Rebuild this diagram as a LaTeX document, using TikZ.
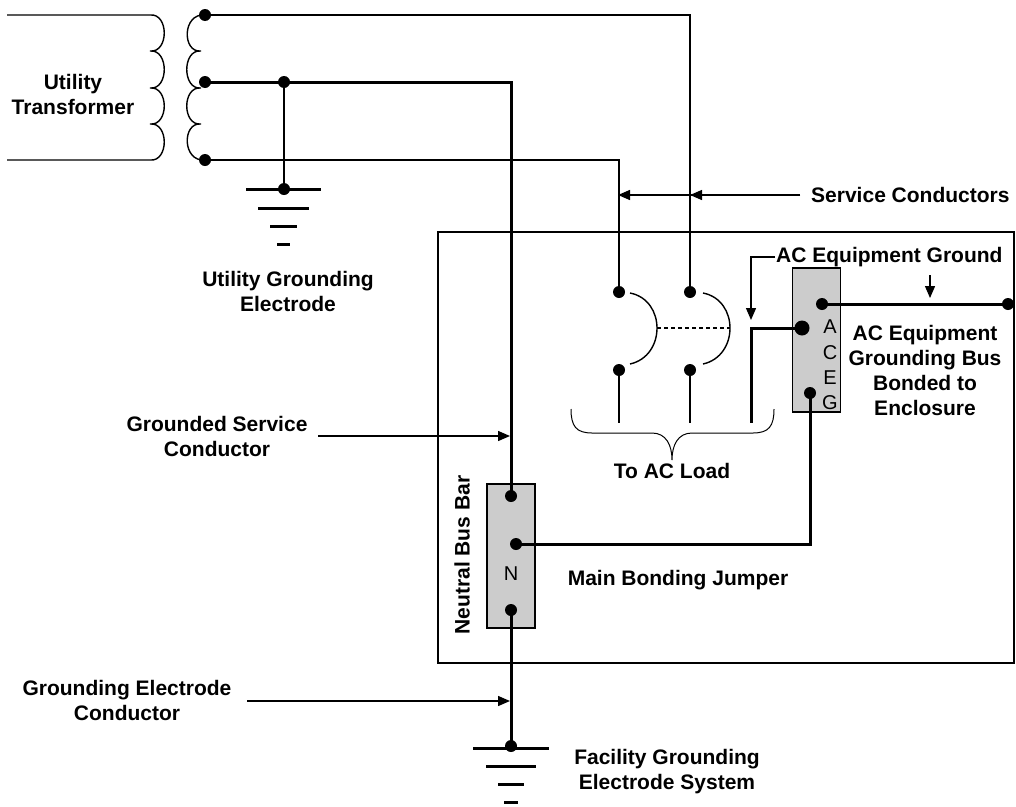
\documentclass[tikz,border=0pt]{standalone}
\usepackage{fontspec}
\setmainfont{Liberation Sans}
\usetikzlibrary{arrows.meta}
\definecolor{busgray}{RGB}{204,204,204}
\begin{document}
\begin{tikzpicture}[x=1pt,y=-1pt,
  thinwire/.style={line width=1.4pt},
  thickwire/.style={line width=3pt},
  lbl/.style={font=\fontsize{21}{25}\selectfont\bfseries, align=center, inner sep=0pt},
  letter/.style={font=\fontsize{20}{22}\selectfont, inner sep=0pt},
  bus/.style={draw, line width=1.4pt, fill=busgray, inner sep=0pt},
  dot/.style={circle, fill=black, inner sep=0pt, minimum size=12pt},
  bigdot/.style={circle, fill=black, inner sep=0pt, minimum size=15pt},
  arr/.style={thinwire, -{Triangle[length=12pt,width=10pt]}},
  gbar/.style={line width=3pt},
  ]
\useasboundingbox (0,0) rectangle (1016,806);

% enclosure
\draw[thinwire] (438,232) rectangle (1014,663);

% bus bars
\node[bus, minimum width=48pt, minimum height=144pt] (aceg) at (816.5,340) {};
\node[bus, minimum width=48pt, minimum height=144pt] (nbus) at (511,556) {};
\node[letter] (lA) at (830,327) {A};
\node[letter] (lC) at (830,353) {C};
\node[letter] (lE) at (830,378) {E};
\node[letter] (lG) at (830,403) {G};
\node[letter] (lN) at (511,574) {N};

% primary coil
\draw[thinwire] (7,15) -- (150,15)
  .. controls (169,13) and (169,53) .. (150,51)
  .. controls (169,49) and (169,90) .. (150,88)
  .. controls (169,86) and (169,126) .. (150,124)
  .. controls (169,122) and (169,162) .. (150,160) -- (7,160);
% secondary coil
\draw[thinwire] (205,15)
  .. controls (182,13) and (182,53) .. (201,51)
  .. controls (182,49) and (182,90) .. (201,88)
  .. controls (182,86) and (182,126) .. (201,124)
  .. controls (182,122) and (182,162) .. (205,160);

% transformer taps
\node[dot] (t1) at (205,15) {};
\node[dot] (t2) at (205,82) {};
\node[dot] (t3) at (205,160) {};
\node[dot] (ug) at (284,82) {};
\node[dot] (ugd) at (284,189) {};

% breaker contacts
\node[dot] (b1t) at (619,292) {};
\node[dot] (b1b) at (619,370) {};
\node[dot] (b2t) at (690,292) {};
\node[dot] (b2b) at (690,370) {};
\coordinate (l1) at (619,423);
\coordinate (l2) at (690,423);
\coordinate (l3) at (751,423);

% ACEG dots
\node[dot] (eg1) at (822,304) {};
\node[bigdot] (eg2) at (802,328) {};
\node[dot] (eg3) at (810,393) {};
\node[dot] (encdot) at (1008,304) {};

% neutral bus dots
\node[dot] (nb1) at (511,496) {};
\node[dot] (nb2) at (516,544) {};
\node[dot] (nb3) at (511,610) {};
\node[dot] (fgd) at (511,746) {};

% wires
\draw[thinwire] (t1.center) -| (b2t.center);
\draw[thinwire] (t3.center) -| (b1t.center);
\draw[thickwire] (t2.center) -| (nb1.center);
\draw[thinwire] (ug.center) -- (ugd.center);
\draw[thinwire] (b1b.center) -- (l1);
\draw[thinwire] (b2b.center) -- (l2);
\draw[thickwire] (eg2.center) -| (l3);
\draw[thickwire] (eg1.center) -- (encdot.center);
\draw[thickwire] (nb2.center) -| (eg3.center);
\draw[thickwire] (nb3.center) -- (fgd.center);

% breaker arcs
\draw[thinwire] (630,293) .. controls (666,300) and (666,356) .. (630,364);
\draw[thinwire] (703,293) .. controls (739,300) and (739,356) .. (703,364);
\draw[thinwire, dash pattern=on 4pt off 3pt] (657,328) -- (730,328);

% ground symbols
\draw[gbar] (246,189) -- (321,189);
\draw[gbar] (258,208) -- (309,208);
\draw[gbar] (270,226) -- (297,226);
\draw[gbar] (277,244) -- (290,244);
\draw[gbar] (473,748) -- (549,748);
\draw[gbar] (486,766) -- (536,766);
\draw[gbar] (498,784) -- (524,784);
\draw[gbar] (504,802) -- (518,802);

% brace
\draw[line width=1pt] (571,409) .. controls (571,426) and (576,433) .. (592,433) -- (652,433)
  .. controls (666,433) and (672,445) .. (672,460)
  .. controls (672,445) and (678,433) .. (692,433) -- (753,433)
  .. controls (769,433) and (774,426) .. (774,409);

% labels
\node[lbl] (utr) at (73,94) {Utility\\Transformer};
\node[lbl] (uge) at (288,291) {Utility Grounding\\Electrode};
\node[lbl, anchor=west] (sc) at (811,195) {Service Conductors};
\node[lbl, anchor=west] (aceq) at (776,257) {AC Equipment Ground};
\node[lbl] (acgb) at (925,370) {AC Equipment\\Grounding Bus\\Bonded to\\Enclosure};
\node[lbl] (tol) at (672,471) {To AC Load};
\node[lbl] (gsc) at (217,436) {Grounded Service\\Conductor};
\node[lbl, rotate=90] (nbb) at (462,555) {Neutral Bus Bar};
\node[lbl] (mbj) at (678,580) {Main Bonding Jumper};
\node[lbl] (gec) at (127,700) {Grounding Electrode\\Conductor};
\node[lbl] (fges) at (667,772) {Facility Grounding\\Electrode System};

% pointer arrows
\coordinate (scs) at (800,195);
\coordinate (w2) at (618,195);
\coordinate (w1) at (690,195);
\draw[arr] (scs) -- (w2);
\draw[arr] (scs) -- (w1);
\coordinate (aeg1) at (775,257);
\coordinate (aeg2) at (751,320);
\draw[arr] (aeg1) -| (aeg2);
\coordinate (aeg3) at (930,275);
\coordinate (aeg4) at (930,298);
\draw[arr] (aeg3) -- (aeg4);
\coordinate (gscs) at (318,436);
\coordinate (gsce) at (510,436);
\draw[arr] (gscs) -- (gsce);
\coordinate (gecs) at (247,701);
\coordinate (gece) at (510,701);
\draw[arr] (gecs) -- (gece);
\end{tikzpicture}
\end{document}
